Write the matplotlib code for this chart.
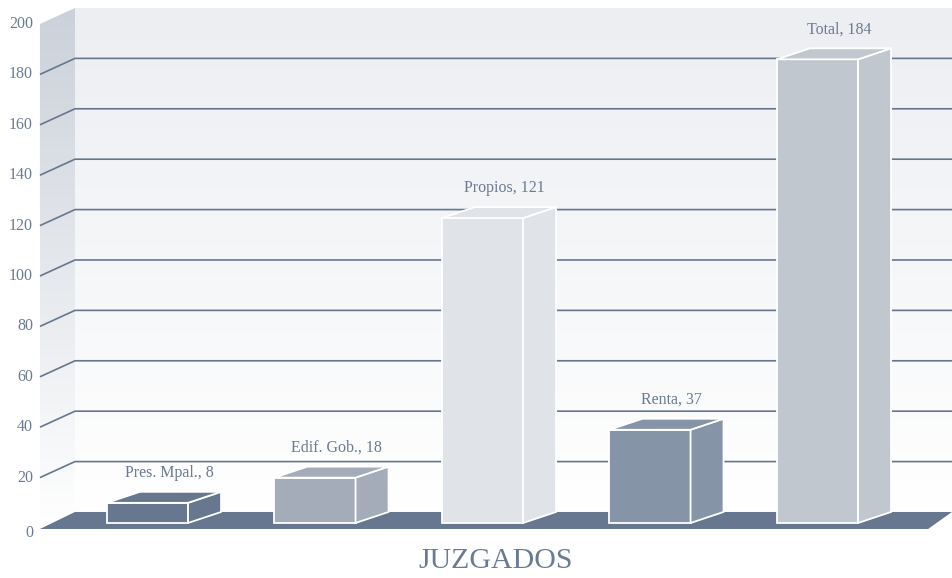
import numpy as np
import matplotlib.pyplot as plt
from matplotlib.patches import Polygon
from matplotlib.colors import LinearSegmentedColormap

# ---- datos ----
categorias = ['Pres. Mpal.', 'Edif. Gob.', 'Propios', 'Renta', 'Total']
valores = [8, 18, 121, 37, 184]
colores = ['#66778f', '#a3acb8', '#e0e3e8', '#8594a6', '#c1c7cf']
ticks = list(range(0, 201, 20))
titulo = 'JUZGADOS'

# ---- geometria 3D (x = indice de categoria, y = valor) ----
ANCHO = 0.484                 # ancho de la cara frontal de la barra
BAR_DX, BAR_DY = 0.197, 4.37  # profundidad de las barras
FRENTE_X, FRENTE_Y = -0.642, -1.98   # esquina frontal izq. de paredes/piso
FONDO_X, FONDO_Y = -0.433, 4.37      # esquina trasera izq.
XMIN, XMAX = -0.8806, 4.803
YMIN, YMAX = -21.83, 207.54
PISO_DER = 4.66
TOPE = 200

COLOR_TXT = '#6a7a94'
COLOR_GRID = '#66768f'
plt.rcParams['font.family'] = ['Liberation Serif', 'DejaVu Serif']

fig = plt.figure(figsize=(9.52, 5.78), dpi=100)
ax = fig.add_axes([0, 0, 1, 1])
ax.set_xlim(XMIN, XMAX)
ax.set_ylim(YMIN, YMAX)
ax.axis('off')


def pared(puntos, arriba, abajo, z):
    poly = Polygon(puntos, closed=True, facecolor='none', edgecolor='none', zorder=z)
    ax.add_patch(poly)
    cmap = LinearSegmentedColormap.from_list('g', [abajo, arriba])
    grad = np.linspace(0, 1, 256).reshape(-1, 1)
    ys = [p[1] for p in puntos]
    im = ax.imshow(grad, extent=[XMIN, XMAX, min(ys), max(ys)], origin='lower',
                   cmap=cmap, aspect='auto', zorder=z, interpolation='bilinear')
    im.set_clip_path(poly)


# pared de fondo y pared lateral
pared([(FONDO_X, FONDO_Y), (XMAX, FONDO_Y), (XMAX, TOPE + FONDO_Y), (FONDO_X, TOPE + FONDO_Y)],
      '#eceef2', '#ffffff', 1)
pared([(FRENTE_X, FRENTE_Y), (FONDO_X, FONDO_Y), (FONDO_X, TOPE + FONDO_Y), (FRENTE_X, TOPE + FRENTE_Y)],
      '#cbd1da', '#ffffff', 1)

# lineas de division
for t in ticks[1:-1]:
    ax.plot([FRENTE_X, FONDO_X, XMAX], [t + FRENTE_Y, t + FONDO_Y, t + FONDO_Y],
            color=COLOR_GRID, lw=1.2, zorder=2, solid_capstyle='butt')

# piso
ax.add_patch(Polygon([(FRENTE_X, FRENTE_Y - 0.4), (FONDO_X, FONDO_Y), (XMAX, FONDO_Y),
                      (PISO_DER, FRENTE_Y - 0.4)], closed=True,
                     facecolor='#66778f', edgecolor='none', zorder=3))

# etiquetas del eje
for t in ticks:
    ax.text(-0.684, t + FRENTE_Y - (2 if t == 0 else 0), str(t), ha='right', va='center',
            fontsize=11.5, color=COLOR_TXT, zorder=5)

# barras
for i, (cat, v, c) in enumerate(zip(categorias, valores, colores)):
    l, r = i - ANCHO / 2, i + ANCHO / 2
    caras = [
        [(l, 0), (r, 0), (r, v), (l, v)],
        [(r, 0), (r + BAR_DX, BAR_DY), (r + BAR_DX, v + BAR_DY), (r, v)],
        [(l, v), (r, v), (r + BAR_DX, v + BAR_DY), (l + BAR_DX, v + BAR_DY)],
    ]
    for cara in caras:
        ax.add_patch(Polygon(cara, closed=True, facecolor=c, edgecolor='white',
                             lw=1.3, joinstyle='miter', zorder=4))
    ax.text(i + 0.13, v + BAR_DY + 7.5, f'{cat}, {v}', ha='center', va='center',
            fontsize=11.5, color=COLOR_TXT, zorder=5)

ax.text((FRENTE_X + XMAX) / 2, -15.1, titulo, ha='center', va='center',
        fontsize=21.5, color=COLOR_TXT)

fig.savefig('out.png', dpi=100)
